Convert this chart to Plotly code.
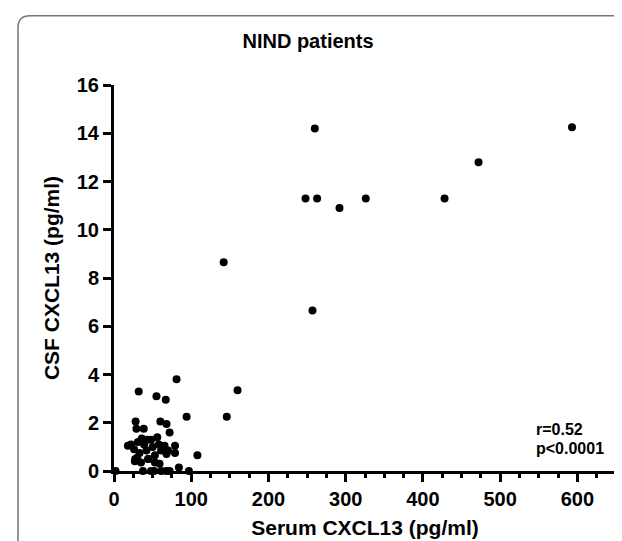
import plotly.graph_objects as go

# Serum vs CSF CXCL13, NIND patients
serum = [
    260, 593, 472, 248, 263, 326, 428, 292, 142, 257,
    160, 146, 81, 32, 55, 67, 94, 108,
    28, 29, 38.5, 60, 68, 72, 79, 79, 59, 84,
    18, 22, 26, 27.5, 31, 33, 35, 39, 42, 45, 48, 50, 53,
    56, 58, 61, 65.5, 68, 43, 36, 30, 53, 70, 27, 44,
    2, 37.5, 48, 52, 61, 67.5, 72, 97,
]
csf = [
    14.2, 14.25, 12.8, 11.3, 11.3, 11.3, 11.3, 10.9, 8.65, 6.65,
    3.35, 2.25, 3.8, 3.3, 3.1, 2.95, 2.25, 0.65,
    2.05, 1.75, 1.75, 2.05, 1.95, 1.6, 1.05, 0.75, 0.3, 0.15,
    1.05, 1.1, 0.9, 0.5, 1.2, 0.75, 0.35, 1.1, 0.85, 0.5, 1.3, 1.0, 0.65,
    1.4, 1.1, 0.85, 1.05, 0.7, 1.3, 1.35, 0.55, 0.35, 0.85, 0.4, 0.5,
    0, 0, 0, 0, 0, 0, 0, 0,
]

x_ticks = [0, 100, 200, 300, 400, 500, 600]
y_ticks = [0, 2, 4, 6, 8, 10, 12, 14, 16]
stats = ["r=0.52", "p<0.0001"]

FONT = "Liberation Sans, Arial, sans-serif"

fig = go.Figure()
fig.add_trace(go.Scatter(
    x=serum, y=csf, mode="markers",
    marker=dict(color="black", size=8),
    cliponaxis=False, showlegend=False,
))

# Plot area in pixels: x 106..608, y 77..467
L, R, T, B = 106, 14, 77, 74
W, H = 622, 541
pw, ph = W - L - R, H - T - B


def px(x):
    return (x - L) / pw


def py(y):
    return (H - B - y) / ph


# rounded panel border (top-left corner visible)
r = 12
frame = (f"M {px(10)},{py(560)} L {px(10)},{py(7 + r)} "
         f"Q {px(10)},{py(7)} {px(10 + r)},{py(7)} L {px(640)},{py(7)}")
fig.add_shape(type="path", path=frame, xref="paper", yref="paper",
              line=dict(color="#777777", width=1.5))

fig.add_annotation(x=px(526), y=py(425), xref="paper", yref="paper",
                   text=stats[0], showarrow=False, xanchor="left", yanchor="middle",
                   font=dict(family=FONT, size=16, color="black", weight="bold"))
fig.add_annotation(x=px(526), y=py(444), xref="paper", yref="paper",
                   text=stats[1], showarrow=False, xanchor="left", yanchor="middle",
                   font=dict(family=FONT, size=16, color="black", weight="bold"))

fig.update_layout(
    width=W, height=H,
    margin=dict(l=L, r=R, t=T, b=B),
    paper_bgcolor="white", plot_bgcolor="white",
    font=dict(family=FONT, color="black"),
    title=dict(text="NIND patients", x=300 / W, xanchor="center",
               y=1 - 33 / H, yanchor="middle",
               font=dict(family=FONT, size=20, weight="bold")),
)
fig.update_xaxes(
    range=[0, 650], tickvals=x_ticks, ticktext=[str(v) for v in x_ticks],
    showline=True, linecolor="black", linewidth=3,
    ticks="outside", ticklen=8, tickwidth=2.5, tickcolor="black",
    minor=dict(dtick=25, ticks="outside", ticklen=4, tickwidth=2.5, tickcolor="black"),
    showgrid=False, zeroline=False,
    tickfont=dict(family=FONT, size=20, weight="bold"),
    title=dict(text="Serum CXCL13 (pg/ml)", standoff=12,
               font=dict(family=FONT, size=21, weight="bold")),
)
fig.update_yaxes(
    range=[0, 16], tickvals=y_ticks, ticktext=[str(v) for v in y_ticks],
    showline=True, linecolor="black", linewidth=3,
    ticks="outside", ticklen=8, tickwidth=2.5, tickcolor="black",
    showgrid=False, zeroline=False,
    tickfont=dict(family=FONT, size=20, weight="bold"),
    title=dict(text="CSF CXCL13 (pg/ml)", standoff=12,
               font=dict(family=FONT, size=21, weight="bold")),
)

fig.write_html("out.html")
